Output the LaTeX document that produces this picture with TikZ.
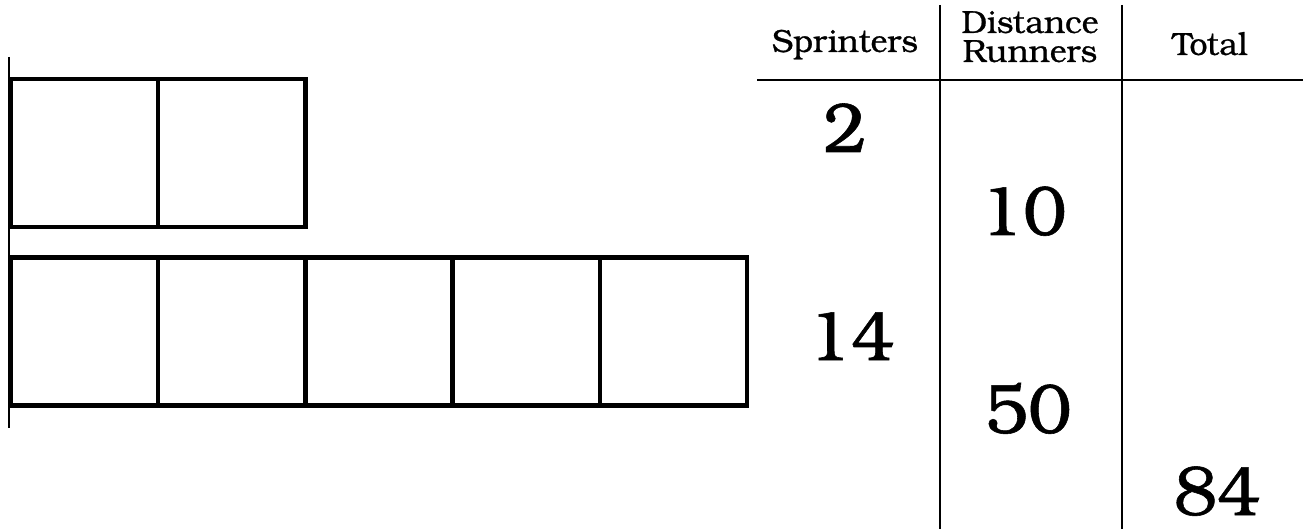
\documentclass[tikz,border=0pt]{standalone}
\usepackage{fontspec}
\setmainfont{TeX Gyre Bonum}
\newfontfamily\heavyfont[FakeBold=0.8]{TeX Gyre Bonum}
\begin{document}
\begin{tikzpicture}[x=1pt,y=-1pt,
  sq/.style={draw,line width=4.5pt,rectangle,minimum width=147.2pt,minimum height=148pt,inner sep=0pt},
  rule/.style={line width=1.8pt},
  head/.style={anchor=base,inner sep=0pt,font=\heavyfont\fontsize{32}{36}\selectfont},
  num/.style={anchor=base,inner sep=0pt,font=\heavyfont\fontsize{70}{80}\selectfont}]
\useasboundingbox (0,0) rectangle (1309,529);
% boxes
\node[sq] (a1) at (84.6,153) {};
\node[sq] (a2) at (231.8,153) {};
\node[sq] (b1) at (84.6,331.5) {};
\node[sq] (b2) at (231.8,331.5) {};
\node[sq] (b3) at (379,331.5) {};
\node[sq] (b4) at (526.2,331.5) {};
\node[sq] (b5) at (673.4,331.5) {};
% axis
\coordinate (axt) at (9,57);
\coordinate (axb) at (9,428);
\draw[rule] (axt) -- (axb);
% table lines
\coordinate (r1) at (757,80);
\coordinate (r2) at (1303,80);
\coordinate (v1t) at (940,5);
\coordinate (v1b) at (940,529);
\coordinate (v2t) at (1122,5);
\coordinate (v2b) at (1122,529);
\draw[rule] (r1) -- (r2);
\draw[rule] (v1t) -- (v1b);
\draw[rule] (v2t) -- (v2b);
% headers
\node[head] (hs) at (845,52) {Sprinters};
\node[head] (hd) at (1030,33) {Distance};
\node[head] (hr) at (1030,62) {Runners};
\node[head] (ht) at (1210,55) {Total};
% numbers
\node[num] (n2) at (845,152) {2};
\node[num] (n14) at (851,360) {14};
\node[num] (n10) at (1023,235) {10};
\node[num] (n50) at (1028,433) {50};
\node[num] (n84) at (1217,515) {84};
\end{tikzpicture}
\end{document}
